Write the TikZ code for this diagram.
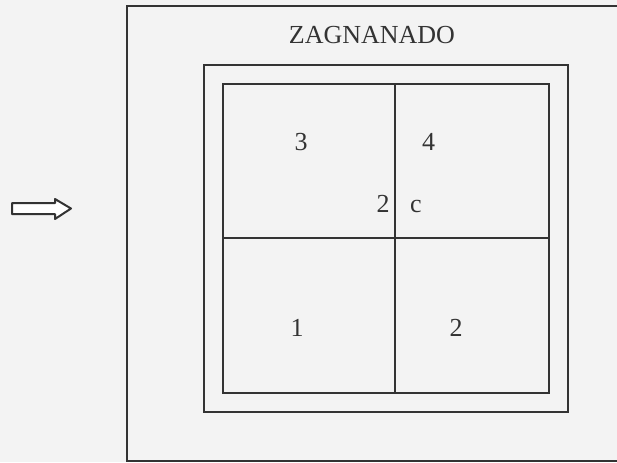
\documentclass[tikz,border=0pt]{standalone}
\usepackage{fontspec}
\setmainfont{Liberation Serif}
\definecolor{paper}{HTML}{F3F3F3}
\definecolor{ink}{HTML}{333333}
\begin{document}
\begin{tikzpicture}[x=0.5pt, y=-0.5pt, line width=1pt, draw=ink,
  lbl/.style={anchor=base, inner sep=0pt, text=ink, font=\fontsize{13}{15}\selectfont}]
  \useasboundingbox[fill=paper] (0,0) rectangle (617,462);

  % Entry arrow
  \draw[fill=white, line join=round] (12,203) -- (55,203) -- (55,199) -- (71,208.5)
    -- (55,219) -- (55,214) -- (12,214) -- cycle;

  % Outer field (cut off at the right)
  \draw (617,6) -- (127,6) -- (127,461) -- (617,461);
  \node[lbl] (title) at (372,43) {ZAGNANADO};

  % Border strip and plots
  \draw (204,65) rectangle (568,412);
  \draw (223,84) rectangle (549,393);
  \draw (395,84) -- (395,393);
  \draw (223,238) -- (549,238);

  \node[lbl] (p3) at (301,150) {3};
  \node[lbl] (p4) at (428.5,150) {4};
  \node[lbl] (r2) at (383,212) {2};
  \node[lbl] (rc) at (416,212) {c};
  \node[lbl] (p1) at (297,336) {1};
  \node[lbl] (p2) at (456,336) {2};
\end{tikzpicture}
\end{document}
